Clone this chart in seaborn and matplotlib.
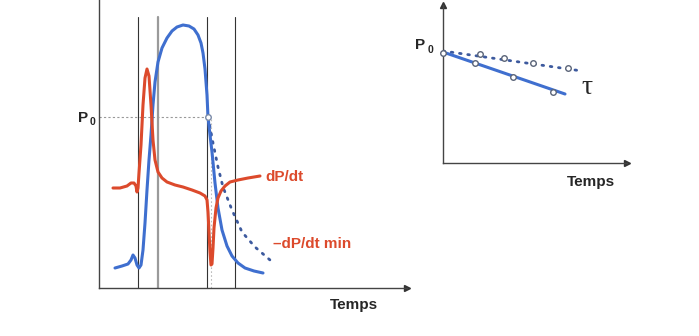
import matplotlib
matplotlib.use("Agg")
import matplotlib.pyplot as plt
import seaborn as sns

sns.set_theme(style="white")
plt.rcParams['font.family'] = ['Liberation Sans', 'DejaVu Sans']

# ---------------- data (left panel: time units, pressure units) -------------
pressure_t = [16, 23, 29, 32, 34, 36, 38, 40, 42, 44, 46, 48, 50, 52, 54, 56, 59, 63, 68, 73,
              78, 84, 90, 95, 99, 102, 104, 106, 108, 109, 111, 113, 116, 119, 123, 128, 133,
              139, 146, 155, 164]
pressure_v = [20, 22, 24, 28, 33, 30, 23, 20, 23, 38, 65, 98, 128, 153, 183, 206, 226, 240, 250,
              257, 261, 263, 262, 259, 253, 245, 235, 219, 193, 171, 153, 136, 105, 80, 58, 42,
              32, 25, 20, 17, 15]

dpdt_t = [14, 21, 28, 32, 35, 37, 38, 39, 40, 42, 44, 46, 48, 50, 52, 54, 56, 59, 63, 68, 76,
          84, 93, 101, 106, 108, 109, 110, 111, 112, 113, 114, 115, 117, 119, 122, 126, 131,
          139, 149, 161]
dpdt_v = [100, 100, 102, 105, 105, 102, 96, 100, 115, 143, 183, 210, 219, 212, 183, 148, 128,
          116, 110, 106, 103, 101, 98, 95, 92, 88, 76, 56, 36, 23, 24, 40, 60, 80, 90, 97, 102,
          106, 108, 110, 112]

expo_t = [109, 111, 114, 119, 124, 133, 143, 156, 171]
expo_v = [171, 161, 145, 121, 101, 78, 56, 41, 28]

phase_t = [39, 59, 108, 136]        # vertical event lines
p0_t, p0_v = 109, 171               # P0 point

# right panel (log pressure vs time)
log_line_t = [0, 122]
log_line_v = [111, 69]
log_pts_t = [0, 32, 70, 110]
log_pts_v = [110, 100, 86, 71]
lin_line_t = [0, 139]
lin_line_v = [112, 92]
lin_pts_t = [37, 61, 90, 125]
lin_pts_v = [109, 105, 100, 95]

BLUE = "#3f6fcf"
DOTBLUE = "#3d5a9e"
RED = "#dc4a2c"
W, H = 699, 336
DOTS = (0, (0.6, 2.4))

fig = plt.figure(figsize=(W / 100, H / 100), dpi=100)


def fx(px):
    return px / W


def fy(py):
    return 1 - py / H


# ---------------- left panel ----------------
axL = fig.add_axes([fx(99), fy(288), (407 - 99) / W, 288 / H])
axL.set_xlim(0, 308)
axL.set_ylim(0, 288)
for s in ["top", "right"]:
    axL.spines[s].set_visible(False)
for s in ["left", "bottom"]:
    axL.spines[s].set_color("#444444")
    axL.spines[s].set_linewidth(1.0)
axL.set_xticks([])
axL.set_yticks([])
axL.plot([1], [0], marker=">", color="#333333", markersize=4,
         transform=axL.transAxes, clip_on=False)

for i, t in enumerate(phase_t):
    if i == 1:
        axL.plot([t, t], [0, 271], color="#9a9a9a", lw=1.6, zorder=1)
    else:
        axL.plot([t, t], [0, 271], color="#333333", lw=0.8, zorder=1)

axL.plot([0, p0_t], [p0_v, p0_v], color="#999999", lw=0.8, ls=(0, (2, 2)), zorder=1)
axL.plot([p0_t + 3, p0_t + 3], [0, p0_v], color="#bbbbbb", lw=0.8, ls=(0, (1.5, 2)), zorder=1)

sns.lineplot(x=pressure_t, y=pressure_v, ax=axL, sort=False, estimator=None,
             color=BLUE, lw=2.2, zorder=3)
sns.lineplot(x=dpdt_t, y=dpdt_v, ax=axL, sort=False, estimator=None,
             color=RED, lw=2.2, zorder=4)
axL.plot(expo_t, expo_v, color=DOTBLUE, lw=2.0, ls=DOTS,
         dash_capstyle="round", zorder=2)
axL.plot([p0_t], [p0_v], marker="o", ms=4, mfc="white", mec="#7a8aa8", mew=1, zorder=5)

fig.text(fx(83), fy(118), "P", fontsize=11, fontweight="bold", ha="center", va="center")
fig.text(fx(92), fy(122), "0", fontsize=7.5, fontweight="bold", ha="center", va="center")
fig.text(fx(265), fy(177), "dP/dt", fontsize=11, fontweight="bold", color=RED,
         ha="left", va="center")
fig.text(fx(273), fy(244), "\u2013dP/dt min", fontsize=11, fontweight="bold", color=RED,
         ha="left", va="center")
fig.text(fx(354), fy(305), "Temps", fontsize=11, fontweight="bold", ha="center", va="center")

# ---------------- right panel ----------------
axR = fig.add_axes([fx(443), fy(163), (627 - 443) / W, (163 - 5) / H])
axR.set_xlim(0, 184)
axR.set_ylim(0, 158)
for s in ["top", "right"]:
    axR.spines[s].set_visible(False)
for s in ["left", "bottom"]:
    axR.spines[s].set_color("#444444")
    axR.spines[s].set_linewidth(1.0)
axR.set_xticks([])
axR.set_yticks([])
axR.plot([1], [0], marker=">", color="#333333", markersize=4,
         transform=axR.transAxes, clip_on=False)
axR.plot([0], [1], marker="^", color="#333333", markersize=4,
         transform=axR.transAxes, clip_on=False)

sns.lineplot(x=log_line_t, y=log_line_v, ax=axR, sort=False, estimator=None,
             color=BLUE, lw=2.2, zorder=3)
axR.plot(lin_line_t, lin_line_v, color=DOTBLUE, lw=2.0, ls=DOTS,
         dash_capstyle="round", zorder=2)
axR.plot(log_pts_t, log_pts_v, ls="none", marker="o", ms=4, mfc="white",
         mec="#5a6478", mew=1, zorder=5, clip_on=False)
axR.plot(lin_pts_t, lin_pts_v, ls="none", marker="o", ms=4, mfc="white",
         mec="#5a6478", mew=1, zorder=5, clip_on=False)

fig.text(fx(420), fy(45), "P", fontsize=11, fontweight="bold", ha="center", va="center")
fig.text(fx(430), fy(50), "0", fontsize=7.5, fontweight="bold", ha="center", va="center")
fig.text(fx(587), fy(88), "\u03c4", fontsize=20, family="Liberation Serif",
         ha="center", va="center")
fig.text(fx(591), fy(182), "Temps", fontsize=11, fontweight="bold", ha="center", va="center")

fig.savefig("out.png", dpi=100)
